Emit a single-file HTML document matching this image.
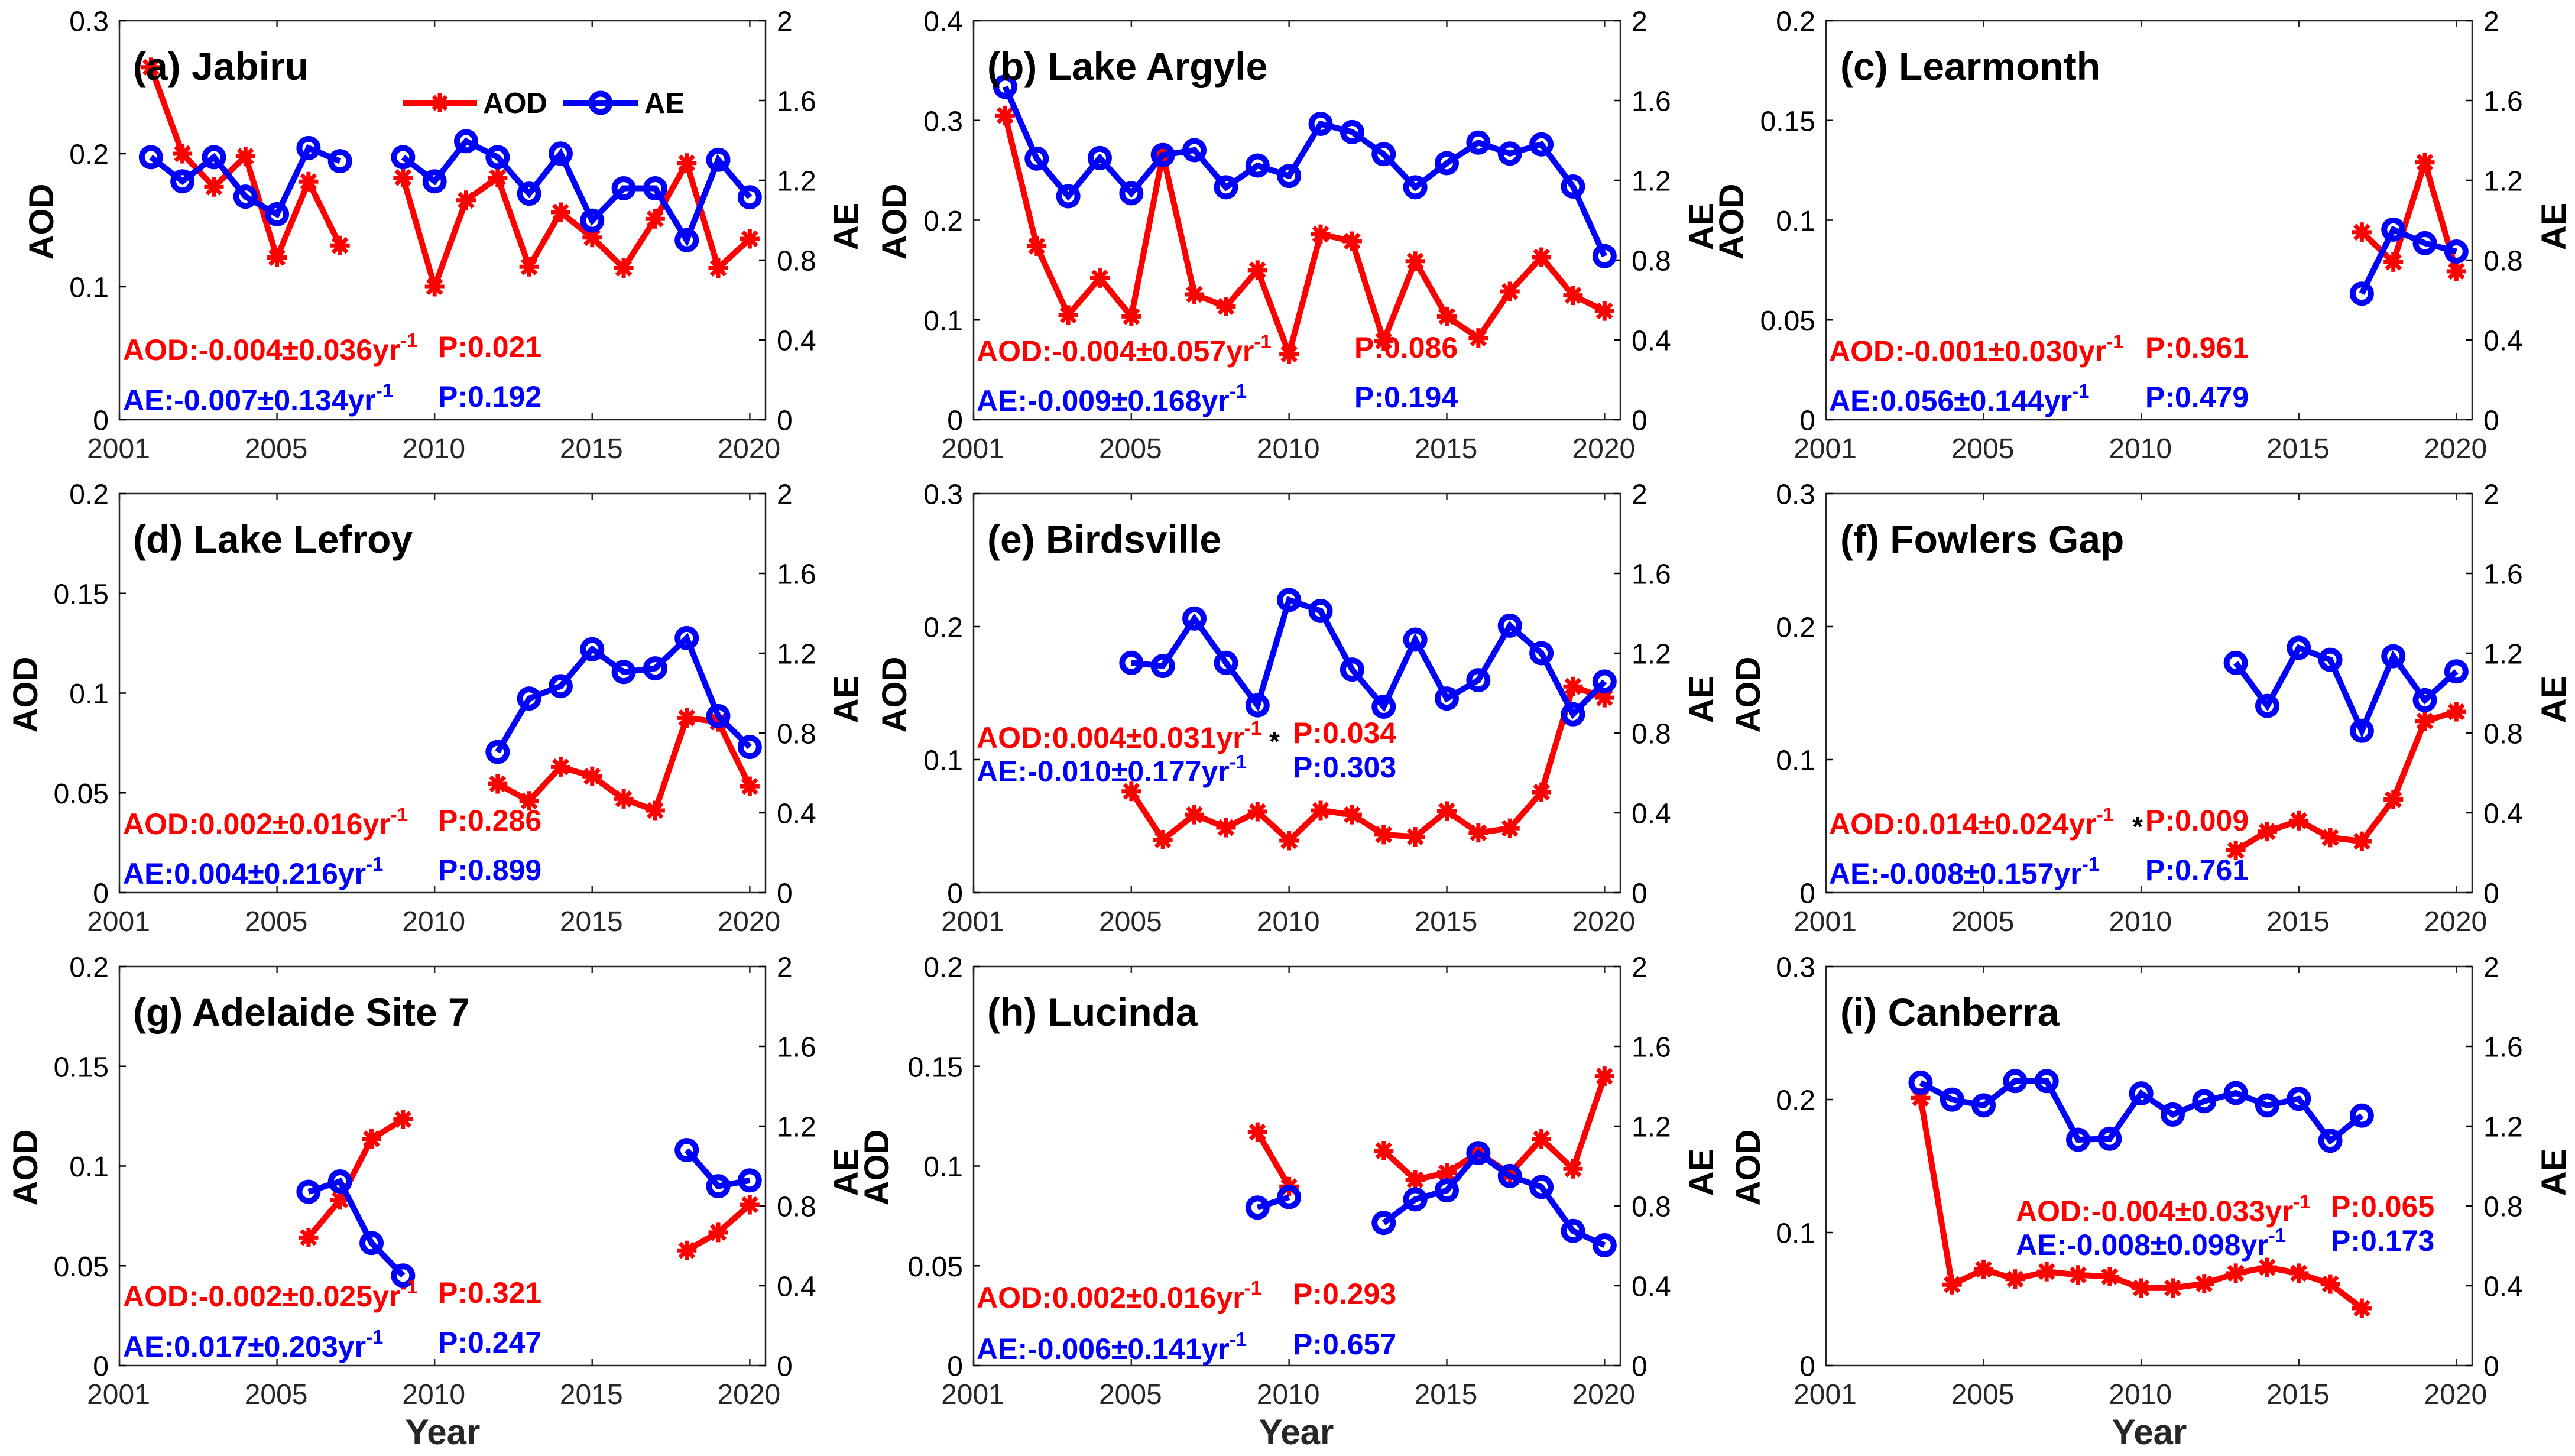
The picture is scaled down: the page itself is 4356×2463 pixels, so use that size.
<!DOCTYPE html>
<html lang="en">
<head>
<meta charset="utf-8">
<title>AOD and AE trends at nine Australian sites</title>
<style>
  html, body { margin: 0; padding: 0; background: #fff; }
  svg { display: block; font-family: "Liberation Sans", Arial, sans-serif; }
  .title { font-size: 66px; font-weight: 700; fill: #000; }
  .axis-label { font-size: 58px; font-weight: 700; fill: #000; text-anchor: middle; }
  .year-label { font-size: 60px; font-weight: 700; fill: #262626; text-anchor: middle; }
  .trend { font-size: 50px; font-weight: 700; }
  .pval { font-size: 50px; font-weight: 700; }
  .sup { font-size: 33px; }
  .red { fill: #ff0000; }
  .blue { fill: #0000ff; }
  .star { font-size: 46px; font-weight: 700; fill: #000; text-anchor: middle; }
  .legend-text { font-size: 49px; font-weight: 700; fill: #000; }
  .tick-left, .tick-right { font-size: 48px; fill: #000; }
  .tick-x { font-size: 48px; fill: #262626; text-anchor: middle; }
  .tick-left { text-anchor: end; }
</style>
</head>
<body>
<svg id="figure" xmlns="http://www.w3.org/2000/svg" width="4356" height="2463" viewBox="0 0 4356 2463">
  <rect width="4356" height="2463" fill="#fff"/>

  <g id="panel-a">
    <g class="plot"></g>
    <text class="title" x="225" y="135">(a) Jabiru</text>
    <text class="axis-label" transform="translate(90,375) rotate(-90)">AOD</text>
    <text class="axis-label" transform="translate(1451,383) rotate(-90)">AE</text>
    <text class="trend red" x="208" y="609">AOD:-0.004±0.036yr<tspan class="sup" dy="-22">-1</tspan></text>
    <text class="pval red" x="741" y="604">P:0.021</text>
    <text class="trend blue" x="208" y="694">AE:-0.007±0.134yr<tspan class="sup" dy="-22">-1</tspan></text>
    <text class="pval blue" x="741" y="688">P:0.192</text>
    <g>
      <g>
        <line x1="682" y1="174" x2="807" y2="174" stroke="#ff0000" stroke-width="10"/>
        <g stroke="#ff0000" stroke-width="7">
          <line x1="744" y1="158" x2="744" y2="190"/>
          <line x1="728" y1="174" x2="760" y2="174"/>
          <line x1="733" y1="163" x2="755" y2="185"/>
          <line x1="733" y1="185" x2="755" y2="163"/>
        </g>
        <text class="legend-text" x="817" y="191">AOD</text>
      </g>
      <g>
        <line x1="953" y1="174" x2="1080" y2="174" stroke="#0000ff" stroke-width="10"/>
        <circle cx="1016" cy="174" r="15.5" fill="none" stroke="#0000ff" stroke-width="10"/>
        <text class="legend-text" x="1090" y="191">AE</text>
      </g>
    </g>
  </g>

  <g id="panel-b">
    <g class="plot"></g>
    <text class="title" x="1670" y="135">(b) Lake Argyle</text>
    <text class="axis-label" transform="translate(1533,375) rotate(-90)">AOD</text>
    <text class="axis-label" transform="translate(2898,383) rotate(-90)">AE</text>
    <text class="trend red" x="1652" y="611">AOD:-0.004±0.057yr<tspan class="sup" dy="-22">-1</tspan></text>
    <text class="pval red" x="2291" y="605">P:0.086</text>
    <text class="trend blue" x="1652" y="695">AE:-0.009±0.168yr<tspan class="sup" dy="-22">-1</tspan></text>
    <text class="pval blue" x="2291" y="689">P:0.194</text>
  </g>

  <g id="panel-c">
    <g class="plot"></g>
    <text class="title" x="3113" y="135">(c) Learmonth</text>
    <text class="axis-label" transform="translate(2949,375) rotate(-90)">AOD</text>
    <text class="axis-label" transform="translate(4340,383) rotate(-90)">AE</text>
    <text class="trend red" x="3094" y="611">AOD:-0.001±0.030yr<tspan class="sup" dy="-22">-1</tspan></text>
    <text class="pval red" x="3629" y="605">P:0.961</text>
    <text class="trend blue" x="3094" y="695">AE:0.056±0.144yr<tspan class="sup" dy="-22">-1</tspan></text>
    <text class="pval blue" x="3629" y="689">P:0.479</text>
  </g>

  <g id="panel-d">
    <g class="plot"></g>
    <text class="title" x="225" y="935">(d) Lake Lefroy</text>
    <text class="axis-label" transform="translate(63,1175) rotate(-90)">AOD</text>
    <text class="axis-label" transform="translate(1451,1183) rotate(-90)">AE</text>
    <text class="trend red" x="208" y="1411">AOD:0.002±0.016yr<tspan class="sup" dy="-22">-1</tspan></text>
    <text class="pval red" x="741" y="1405">P:0.286</text>
    <text class="trend blue" x="208" y="1495">AE:0.004±0.216yr<tspan class="sup" dy="-22">-1</tspan></text>
    <text class="pval blue" x="741" y="1489">P:0.899</text>
  </g>

  <g id="panel-e">
    <g class="plot"></g>
    <text class="title" x="1670" y="935">(e) Birdsville</text>
    <text class="axis-label" transform="translate(1533,1175) rotate(-90)">AOD</text>
    <text class="axis-label" transform="translate(2898,1183) rotate(-90)">AE</text>
    <text class="trend red" x="1652" y="1265">AOD:0.004±0.031yr<tspan class="sup" dy="-22">-1</tspan></text>
    <text class="star" x="2156" y="1270">*</text>
    <text class="pval red" x="2187" y="1257">P:0.034</text>
    <text class="trend blue" x="1652" y="1322">AE:-0.010±0.177yr<tspan class="sup" dy="-22">-1</tspan></text>
    <text class="pval blue" x="2187" y="1315">P:0.303</text>
  </g>

  <g id="panel-f">
    <g class="plot"></g>
    <text class="title" x="3113" y="935">(f) Fowlers Gap</text>
    <text class="axis-label" transform="translate(2977,1175) rotate(-90)">AOD</text>
    <text class="axis-label" transform="translate(4340,1183) rotate(-90)">AE</text>
    <text class="trend red" x="3094" y="1411">AOD:0.014±0.024yr<tspan class="sup" dy="-22">-1</tspan></text>
    <text class="star" x="3616" y="1414">*</text>
    <text class="pval red" x="3629" y="1405">P:0.009</text>
    <text class="trend blue" x="3094" y="1495">AE:-0.008±0.157yr<tspan class="sup" dy="-22">-1</tspan></text>
    <text class="pval blue" x="3629" y="1489">P:0.761</text>
  </g>

  <g id="panel-g">
    <g class="plot"></g>
    <text class="title" x="225" y="1735">(g) Adelaide Site 7</text>
    <text class="axis-label" transform="translate(63,1975) rotate(-90)">AOD</text>
    <text class="axis-label" transform="translate(1451,1983) rotate(-90)">AE</text>
    <text class="year-label" x="749" y="2443">Year</text>
    <text class="trend red" x="208" y="2210">AOD:-0.002±0.025yr<tspan class="sup" dy="-22">-1</tspan></text>
    <text class="pval red" x="741" y="2204">P:0.321</text>
    <text class="trend blue" x="208" y="2295">AE:0.017±0.203yr<tspan class="sup" dy="-22">-1</tspan></text>
    <text class="pval blue" x="741" y="2288">P:0.247</text>
  </g>

  <g id="panel-h">
    <g class="plot"></g>
    <text class="title" x="1670" y="1735">(h) Lucinda</text>
    <text class="axis-label" transform="translate(1503,1975) rotate(-90)">AOD</text>
    <text class="axis-label" transform="translate(2898,1983) rotate(-90)">AE</text>
    <text class="year-label" x="2193" y="2443">Year</text>
    <text class="trend red" x="1652" y="2212">AOD:0.002±0.016yr<tspan class="sup" dy="-22">-1</tspan></text>
    <text class="pval red" x="2187" y="2206">P:0.293</text>
    <text class="trend blue" x="1652" y="2299">AE:-0.006±0.141yr<tspan class="sup" dy="-22">-1</tspan></text>
    <text class="pval blue" x="2187" y="2291">P:0.657</text>
  </g>

  <g id="panel-i">
    <g class="plot"></g>
    <text class="title" x="3113" y="1735">(i) Canberra</text>
    <text class="axis-label" transform="translate(2977,1975) rotate(-90)">AOD</text>
    <text class="axis-label" transform="translate(4340,1983) rotate(-90)">AE</text>
    <text class="year-label" x="3636" y="2443">Year</text>
    <text class="trend red" x="3410" y="2066">AOD:-0.004±0.033yr<tspan class="sup" dy="-22">-1</tspan></text>
    <text class="pval red" x="3943" y="2058">P:0.065</text>
    <text class="trend blue" x="3410" y="2123">AE:-0.008±0.098yr<tspan class="sup" dy="-22">-1</tspan></text>
    <text class="pval blue" x="3943" y="2116">P:0.173</text>
  </g>
</svg>

<script>
const years = [2001, 2002, 2003, 2004, 2005, 2006, 2007, 2008, 2009, 2010, 2011, 2012, 2013, 2014, 2015, 2016, 2017, 2018, 2019, 2020];

const aodA = [0.265, 0.200, 0.175, 0.198, 0.122, 0.179, 0.131, null, 0.182, 0.100, 0.165, 0.182, 0.115, 0.156, 0.137, 0.114, 0.151, 0.193, 0.114, 0.136];
const aeA  = [1.316, 1.195, 1.316, 1.118, 1.030, 1.362, 1.296, null, 1.316, 1.195, 1.396, 1.316, 1.133, 1.334, 0.998, 1.160, 1.160, 0.900, 1.303, 1.115];

const aodB = [0.305, 0.174, 0.105, 0.142, 0.1035, 0.266, 0.1256, 0.1135, 0.150, 0.066, 0.186, 0.179, 0.079, 0.159, 0.1035, 0.082, 0.1286, 0.163, 0.1247, 0.109];
const aeB  = [1.669, 1.309, 1.120, 1.312, 1.135, 1.327, 1.351, 1.165, 1.274, 1.222, 1.483, 1.442, 1.331, 1.165, 1.286, 1.389, 1.334, 1.380, 1.169, 0.820];

const aodC = [null, null, null, null, null, null, null, null, null, null, null, null, null, null, null, null, 0.094, 0.079, 0.129, 0.0744];
const aeC  = [null, null, null, null, null, null, null, null, null, null, null, null, null, null, null, null, 0.632, 0.953, 0.885, 0.843];

const aodD = [null, null, null, null, null, null, null, null, null, null, null, 0.0545, 0.046, 0.063, 0.0583, 0.047, 0.0412, 0.0876, 0.0856, 0.0533];
const aeD  = [null, null, null, null, null, null, null, null, null, null, null, 0.705, 0.973, 1.035, 1.220, 1.106, 1.124, 1.276, 0.885, 0.730];

const aodE = [null, null, null, null, 0.0761, 0.0398, 0.0586, 0.0489, 0.0609, 0.0391, 0.0618, 0.0586, 0.0436, 0.042, 0.0614, 0.045, 0.0484, 0.0755, 0.155, 0.1466];
const aeE  = [null, null, null, null, 1.152, 1.136, 1.374, 1.152, 0.939, 1.467, 1.412, 1.118, 0.932, 1.268, 0.973, 1.065, 1.338, 1.200, 0.894, 1.058];

const aodF = [null, null, null, null, null, null, null, null, null, null, null, null, 0.0318, 0.0459, 0.0541, 0.0414, 0.0386, 0.070, 0.129, 0.136];
const aeF  = [null, null, null, null, null, null, null, null, null, null, null, null, 1.152, 0.936, 1.227, 1.167, 0.811, 1.185, 0.965, 1.109];

const aodG = [null, null, null, null, null, 0.0642, 0.083, 0.1136, 0.1234, null, null, null, null, null, null, null, null, 0.0577, 0.0667, 0.0806];
const aeG  = [null, null, null, null, null, 0.871, 0.923, 0.614, 0.451, null, null, null, null, null, null, null, null, 1.080, 0.899, 0.928];

const aodH = [null, null, null, null, null, null, null, null, 0.117, 0.0897, null, null, 0.1077, 0.0931, 0.0967, 0.1065, 0.0962, 0.1136, 0.0986, 0.145];
const aeH  = [null, null, null, null, null, null, null, null, 0.792, 0.844, null, null, 0.715, 0.833, 0.878, 1.065, 0.950, 0.895, 0.675, 0.603];

const aodI = [null, null, 0.2012, 0.0608, 0.0723, 0.065, 0.0706, 0.0681, 0.0669, 0.0583, 0.0583, 0.0615, 0.0694, 0.0738, 0.0694, 0.0613, 0.0431, null, null, null];
const aeI  = [null, null, 1.418, 1.333, 1.304, 1.426, 1.426, 1.132, 1.137, 1.364, 1.258, 1.325, 1.366, 1.304, 1.337, 1.127, 1.253, null, null, null];

// Tick labels
const xTickLabels = ['2001', '2005', '2010', '2015', '2020'];
const xTickValues = [2000, 2005, 2010, 2015, 2020];
const aodTicks02 = ['0', '0.05', '0.1', '0.15', '0.2'];
const aodTicks03 = ['0', '0.1', '0.2', '0.3'];
const aodTicks04 = ['0', '0.1', '0.2', '0.3', '0.4'];
const aeTicks = ['0', '0.4', '0.8', '1.2', '1.6', '2'];

// ---- Layout ----
const xMin = 2000;
const xMax = 2020.5;
const aeMax = 2;
const colBounds = [[202, 1295], [1647, 2741], [3089, 4182]];
const rowBounds = [[35, 710], [835, 1510], [1635, 2310]];

const SVGNS = 'http://www.w3.org/2000/svg';

function xScale(pos, year) {
  return pos.left + (year - xMin) / (xMax - xMin) * (pos.right - pos.left);
}
function yScale(pos, value, maxValue) {
  return pos.bottom - value / maxValue * (pos.bottom - pos.top);
}

function addLine(parent, x1, y1, x2, y2, color, width) {
  const el = document.createElementNS(SVGNS, 'line');
  el.setAttribute('x1', x1);
  el.setAttribute('y1', y1);
  el.setAttribute('x2', x2);
  el.setAttribute('y2', y2);
  el.setAttribute('stroke', color);
  el.setAttribute('stroke-width', width);
  parent.appendChild(el);
  return el;
}

function addText(parent, cls, x, y, str) {
  const el = document.createElementNS(SVGNS, 'text');
  el.setAttribute('class', cls);
  el.setAttribute('x', x);
  el.setAttribute('y', y);
  el.textContent = str;
  parent.appendChild(el);
  return el;
}

function drawAxes(plot, pos, aodTicks, aodMax) {
  const axes = document.createElementNS(SVGNS, 'g');
  
  
  plot.appendChild(axes);

  const frame = document.createElementNS(SVGNS, 'rect');
  frame.setAttribute('x', pos.left);
  frame.setAttribute('y', pos.top);
  frame.setAttribute('width', pos.right - pos.left);
  frame.setAttribute('height', pos.bottom - pos.top);
  frame.setAttribute('fill', 'none');
  frame.setAttribute('stroke', '#262626');
  frame.setAttribute('stroke-width', '2.5');
  
  
  axes.appendChild(frame);

  const tickLen = 11;
  xTickValues.forEach(function (v, i) {
    const x = xScale(pos, v);
    const b = addLine(axes, x, pos.bottom, x, pos.bottom - tickLen, '#262626', 2.5);
    
    
    const t = addLine(axes, x, pos.top, x, pos.top + tickLen, '#262626', 2.5);
    
    
    const lab = addText(axes, 'tick-x', x - 1.5, pos.bottom + 65, xTickLabels[i]);
    
    
  });

  aodTicks.forEach(function (label) {
    const y = yScale(pos, Number(label), aodMax);
    const tk = addLine(axes, pos.left, y, pos.left + tickLen, y, '#000', 2.5);
    
    
    const lab = addText(axes, 'tick-left', pos.left - 18, y + 17.5, label);
    
    
  });

  aeTicks.forEach(function (label) {
    const y = yScale(pos, Number(label), aeMax);
    const tk = addLine(axes, pos.right, y, pos.right - tickLen, y, '#000', 2.5);
    
    
    const lab = addText(axes, 'tick-right', pos.right + 19, y + 17.5, label);
    
    
  });
}

function drawSeriesLine(group, pos, values, maxValue, color) {
  let run = [];
  function flush() {
    if (run.length > 1) {
      const pl = document.createElementNS(SVGNS, 'polyline');
      pl.setAttribute('points', run.join(' '));
      pl.setAttribute('fill', 'none');
      pl.setAttribute('stroke', color);
      pl.setAttribute('stroke-width', '10');
      pl.setAttribute('stroke-linejoin', 'miter');
      
      
      group.appendChild(pl);
    }
    run = [];
  }
  values.forEach(function (v, i) {
    if (v === null) { flush(); return; }
    run.push(xScale(pos, years[i]) + ',' + yScale(pos, v, maxValue));
  });
  flush();
}

function drawAsterisk(group, cx, cy) {
  const m = document.createElementNS(SVGNS, 'g');
  
  
  const r = 16.5;
  const d = r * 0.72;
  addLine(m, cx, cy - r, cx, cy + r, '#ff0000', 7);
  addLine(m, cx - r, cy, cx + r, cy, '#ff0000', 7);
  addLine(m, cx - d, cy - d, cx + d, cy + d, '#ff0000', 7);
  addLine(m, cx - d, cy + d, cx + d, cy - d, '#ff0000', 7);
  group.appendChild(m);
}

function drawCircle(group, cx, cy) {
  const c = document.createElementNS(SVGNS, 'circle');
  c.setAttribute('cx', cx);
  c.setAttribute('cy', cy);
  c.setAttribute('r', '15.5');
  c.setAttribute('fill', 'none');
  c.setAttribute('stroke', '#0000ff');
  c.setAttribute('stroke-width', '10');
  
  
  group.appendChild(c);
}

function drawPanel(id, col, row, aodTicks, aodMax, aod, ae) {
  const plot = document.querySelector('#' + id + ' .plot');
  const pos = { left: colBounds[col][0], right: colBounds[col][1], top: rowBounds[row][0], bottom: rowBounds[row][1] };
  drawAxes(plot, pos, aodTicks, aodMax);

  const aodGroup = document.createElementNS(SVGNS, 'g');
  
  
  plot.appendChild(aodGroup);
  drawSeriesLine(aodGroup, pos, aod, aodMax, '#ff0000');
  aod.forEach(function (v, i) {
    if (v !== null) drawAsterisk(aodGroup, xScale(pos, years[i]), yScale(pos, v, aodMax));
  });

  const aeGroup = document.createElementNS(SVGNS, 'g');
  
  
  plot.appendChild(aeGroup);
  drawSeriesLine(aeGroup, pos, ae, aeMax, '#0000ff');
  ae.forEach(function (v, i) {
    if (v !== null) drawCircle(aeGroup, xScale(pos, years[i]), yScale(pos, v, aeMax));
  });
}

drawPanel('panel-a', 0, 0, aodTicks03, 0.3, aodA, aeA);
drawPanel('panel-b', 1, 0, aodTicks04, 0.4, aodB, aeB);
drawPanel('panel-c', 2, 0, aodTicks02, 0.2, aodC, aeC);
drawPanel('panel-d', 0, 1, aodTicks02, 0.2, aodD, aeD);
drawPanel('panel-e', 1, 1, aodTicks03, 0.3, aodE, aeE);
drawPanel('panel-f', 2, 1, aodTicks03, 0.3, aodF, aeF);
drawPanel('panel-g', 0, 2, aodTicks02, 0.2, aodG, aeG);
drawPanel('panel-h', 1, 2, aodTicks02, 0.2, aodH, aeH);
drawPanel('panel-i', 2, 2, aodTicks03, 0.3, aodI, aeI);
</script>
</body>
</html>
